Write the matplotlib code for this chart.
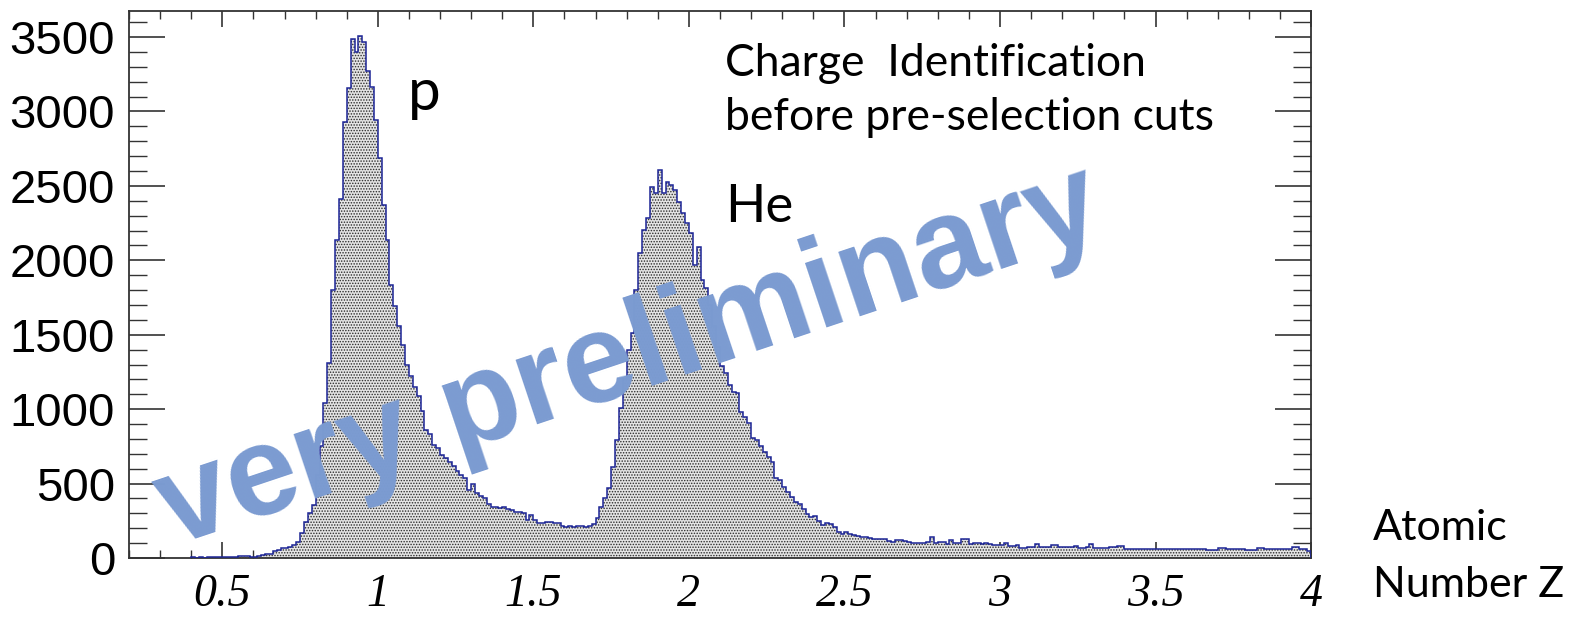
import matplotlib.pyplot as plt
import numpy as np
from matplotlib.ticker import MultipleLocator

# histogram: bin width 0.0125 starting at Z = 0.4 (288 bins up to Z = 4)
bin_start = 0.4
bin_width = 0.0125
counts = [
    4, 2, 6, 3, 5, 4, 7, 5, 8, 10,
    9, 10, 12, 14, 13, 10, 9, 12, 20, 24,
    28, 45, 55, 65, 68, 75, 90, 110, 170, 240,
    300, 356, 560, 750, 1040, 1310, 1800, 2137, 2410, 2930,
    3160, 3490, 3400, 3510, 3470, 3275, 3165, 2940, 2690, 2370,
    2137, 1835, 1690, 1560, 1430, 1300, 1220, 1150, 1090, 990,
    860, 830, 760, 740, 695, 675, 645, 615, 585, 560,
    535, 460, 500, 435, 420, 405, 360, 345, 345, 338,
    345, 327, 323, 311, 311, 300, 255, 289, 255, 238,
    233, 244, 244, 235, 232, 218, 211, 215, 211, 217,
    217, 211, 215, 230, 270, 345, 401, 470, 614, 793,
    1006, 1200, 1400, 1510, 1800, 2050, 2204, 2283, 2495, 2450,
    2607, 2450, 2529, 2507, 2473, 2394, 2316, 2249, 2182, 1969,
    2092, 1868, 1814, 1700, 1560, 1420, 1290, 1243, 1160, 1115,
    1109, 983, 950, 907, 806, 793, 750, 710, 680, 647,
    540, 524, 475, 446, 412, 378, 363, 327, 294, 278,
    284, 250, 222, 232, 230, 211, 177, 161, 177, 160,
    155, 145, 139, 139, 132, 128, 128, 126, 128, 115,
    110, 121, 121, 115, 110, 103, 103, 103, 103, 105,
    143, 99, 105, 110, 92, 121, 99, 99, 128, 128,
    95, 99, 99, 95, 99, 92, 90, 87, 87, 99,
    83, 83, 87, 65, 65, 76, 76, 96, 76, 76,
    76, 90, 88, 76, 76, 76, 76, 83, 69, 69,
    75, 96, 65, 65, 65, 70, 74, 74, 83, 83,
    58, 60, 63, 63, 63, 58, 58, 58, 58, 58,
    58, 60, 58, 60, 60, 58, 58, 60, 63, 63,
    63, 56, 56, 56, 67, 67, 58, 58, 60, 60,
    60, 54, 54, 54, 67, 67, 58, 58, 58, 58,
    63, 63, 63, 72, 72, 63, 63, 49,
]
x_ticks = [0.5, 1, 1.5, 2, 2.5, 3, 3.5, 4]
x_tick_labels = ['0.5', '1', '1.5', '2', '2.5', '3', '3.5', '4']
y_ticks = [0, 500, 1000, 1500, 2000, 2500, 3000, 3500]

counts = np.array(counts, dtype=float)
edges = bin_start + bin_width * np.arange(len(counts) + 1)

fig = plt.figure(figsize=(15.69, 6.19), dpi=100)
ax = fig.add_axes([0.0822, 0.0985, 0.7534, 0.8837])

plt.rcParams['hatch.color'] = '#2a2a2a'
plt.rcParams['hatch.linewidth'] = 0.7

ax.stairs(counts, edges, fill=True, facecolor='#e4e4e4', edgecolor='#2a2a2a',
          hatch='......', linewidth=0, zorder=2)
ax.stairs(counts, edges, color='#1c2596', linewidth=1.1, zorder=3)

ax.set_xlim(0.2, 4.0)
ax.set_ylim(0, 3675)

ax.xaxis.set_minor_locator(MultipleLocator(0.1))
ax.yaxis.set_minor_locator(MultipleLocator(100))
ax.set_xticks(x_ticks)
ax.set_xticklabels(x_tick_labels, family='Liberation Serif', style='italic', fontsize=33)
ax.set_yticks(y_ticks)
ax.set_yticklabels([str(v) for v in y_ticks], family='Liberation Sans', fontsize=34)

ax.tick_params(axis='x', which='major', direction='in', length=11.5, width=1.2,
               top=True, bottom=True, pad=11, color='#333333')
ax.tick_params(axis='x', which='minor', direction='in', length=5.5, width=1.0,
               top=True, bottom=True, color='#333333')
ax.tick_params(axis='y', which='major', direction='in', length=26, width=1.2,
               left=True, right=True, pad=10, color='#333333')
ax.tick_params(axis='y', which='minor', direction='in', length=13, width=1.0,
               left=True, right=True, color='#333333')
for s in ax.spines.values():
    s.set_linewidth(1.3)
    s.set_color('#333333')

# annotations
ax.text(0.236, 0.819, 'p', transform=ax.transAxes, family='Lato', fontsize=42,
        va='baseline')
ax.text(0.504, 0.614, 'He', transform=ax.transAxes, family='Lato', fontsize=38,
        va='baseline')
ax.text(0.504, 0.881, 'Charge  Identification', transform=ax.transAxes,
        family='Lato', fontsize=32, va='baseline')
ax.text(0.504, 0.782, 'before pre-selection cuts', transform=ax.transAxes,
        family='Lato', fontsize=32, va='baseline')
fig.text(0.875, 0.128, 'Atomic', family='Lato', fontsize=31, va='baseline')
fig.text(0.875, 0.036, 'Number Z', family='Lato', fontsize=31, va='baseline')

# watermark
ax.text(0.4235, 0.364, 'very preliminary', transform=ax.transAxes,
        family='Liberation Sans', fontweight='bold', fontsize=92, color='#7b9bd1',
        rotation=18.5, ha='center', va='center', zorder=5)

fig.savefig('out.png', dpi=100)
